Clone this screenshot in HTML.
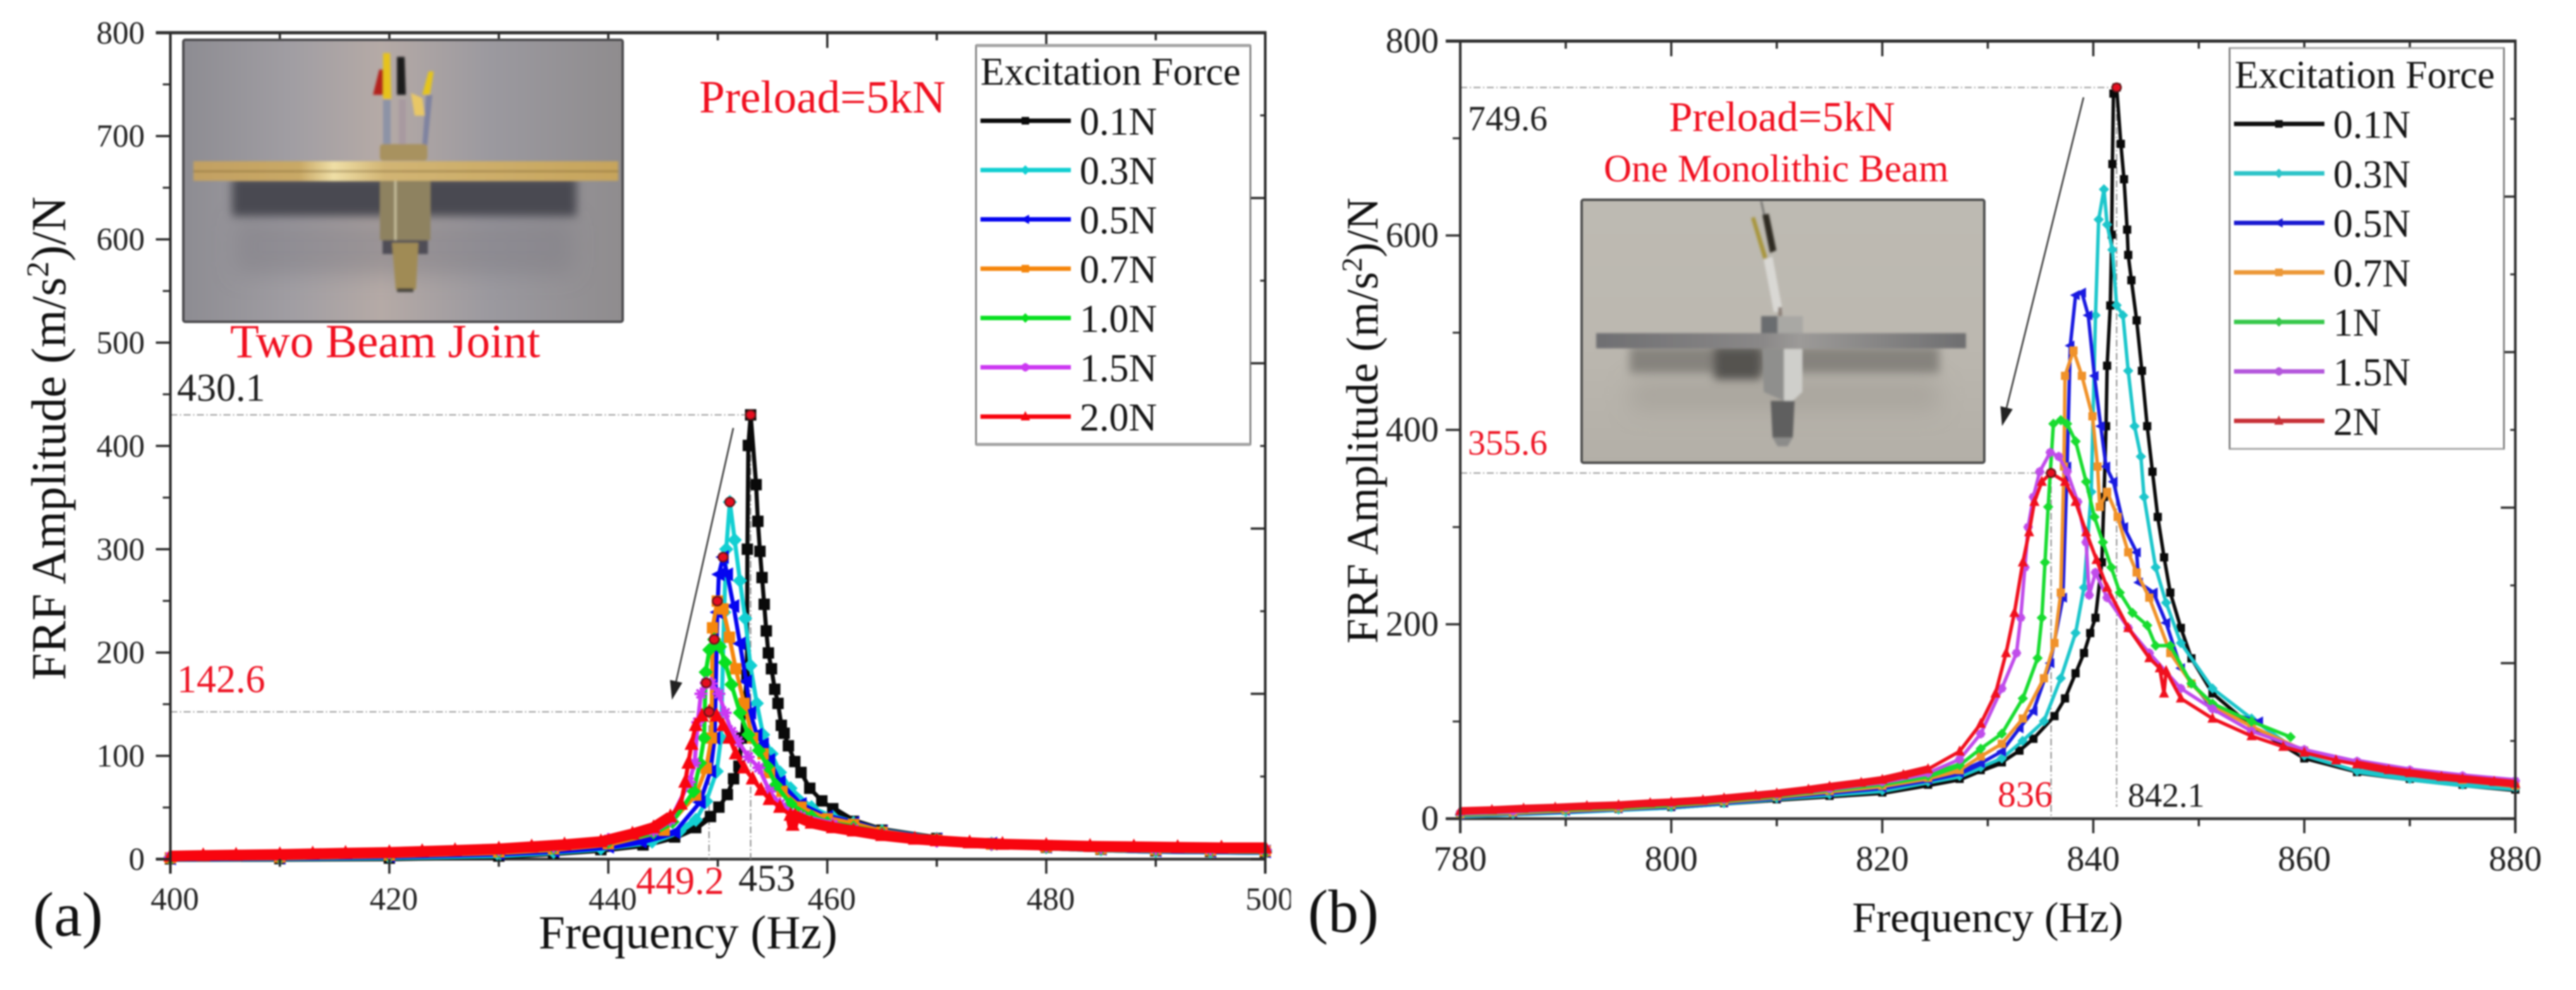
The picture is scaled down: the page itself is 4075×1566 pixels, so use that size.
<!DOCTYPE html>
<html lang="en">
<head>
<meta charset="utf-8">
<title>FRF amplitude vs frequency</title>
<style>
html,body{margin:0;padding:0;background:#fff;}
#figure{display:block;width:4075px;height:1566px;filter:blur(1.2px);font-family:"Liberation Serif",serif;}
text{font-family:"Liberation Serif",serif;}
</style>
</head>
<body>
<svg id="figure" xmlns="http://www.w3.org/2000/svg" width="4075" height="1566" viewBox="0 0 4075 1566">
<defs>
<filter id="soft" x="-5%" y="-5%" width="110%" height="110%"><feGaussianBlur stdDeviation="1.6"/></filter>
<filter id="shadowBlur" x="-20%" y="-60%" width="140%" height="240%"><feGaussianBlur stdDeviation="7"/></filter>
<filter id="fadeBlur" x="-20%" y="-60%" width="140%" height="240%"><feGaussianBlur stdDeviation="18"/></filter>
<linearGradient id="bgLeft" x1="0" x2="1" y1="0" y2="0">
<stop offset="0" stop-color="#8d8c92"/><stop offset="0.25" stop-color="#a19ea3"/><stop offset="0.45" stop-color="#b5aaa6"/><stop offset="0.7" stop-color="#9b999f"/><stop offset="1" stop-color="#8f8c8e"/>
</linearGradient>
<linearGradient id="goldBand" x1="0" x2="1" y1="0" y2="0">
<stop offset="0" stop-color="#c2a062"/><stop offset="0.25" stop-color="#c9a966"/><stop offset="0.33" stop-color="#efdfa6"/><stop offset="0.45" stop-color="#d2b574"/><stop offset="1" stop-color="#c6a45c"/>
</linearGradient>
<linearGradient id="bgRight" x1="0" x2="0" y1="0" y2="1">
<stop offset="0" stop-color="#bdbab2"/><stop offset="0.5" stop-color="#bcb8b0"/><stop offset="1" stop-color="#b3afa7"/>
</linearGradient>
<linearGradient id="steelBand" x1="0" x2="1" y1="0" y2="0">
<stop offset="0" stop-color="#6f6f72"/><stop offset="0.45" stop-color="#8a8888"/><stop offset="0.55" stop-color="#9c9a98"/><stop offset="1" stop-color="#6e6e70"/>
</linearGradient>
</defs>

<rect x="0" y="0" width="4075" height="1566" fill="#ffffff"/>

<g id="chartA"></g>
<g id="chartB"></g>

<!-- Photo, two-beam joint -->
<g>
  <rect x="290" y="63" width="695" height="446" rx="3" fill="url(#bgLeft)" stroke="#4e4d50" stroke-width="4"/>
  <g filter="url(#soft)">
    <rect x="372" y="345" width="535" height="90" fill="#7f7d84" opacity="0.5" filter="url(#fadeBlur)"/>
    <rect x="367" y="280" width="545" height="62" fill="#4a4951" filter="url(#shadowBlur)"/>
    <rect x="606" y="157" width="12" height="72" fill="#8d93a6"/>
    <rect x="631" y="157" width="11" height="72" fill="#a89aa0"/>
    <polygon points="684,150 676,230 668,230 674,150" fill="#7f83a0"/>
    <polygon points="606,84 617,84 619,157 606,157" fill="#e6c21a"/>
    <polygon points="600,110 606,110 606,150 590,150" fill="#b3231f"/>
    <polygon points="628,90 640,90 642,150 628,150" fill="#1c1a1c"/>
    <polygon points="678,113 686,113 680,150 668,150" fill="#e5c51f"/>
    <polygon points="650,147 668,155 672,183 656,183" fill="#e8c766"/>
    <rect x="601" y="228" width="75" height="26" rx="5" fill="#a8925f"/>
    <rect x="306" y="255" width="672" height="15" fill="url(#goldBand)"/>
    <rect x="306" y="270" width="672" height="2" fill="#8a6f3a"/>
    <rect x="306" y="272" width="672" height="14" fill="url(#goldBand)"/>
    <rect x="601" y="286" width="80" height="94" fill="#8e8261"/>
    <rect x="624" y="286" width="3" height="94" fill="#cfc6a4"/>
    <rect x="605" y="380" width="72" height="22" fill="#4f4e57"/>
    <polygon points="620,384 662,384 658,458 626,458" fill="#a08b55"/>
    <rect x="628" y="456" width="26" height="6" fill="#46443e"/>
  </g>
</g>

<!-- Photo, monolithic beam -->
<g>
  <rect x="2502" y="316" width="637" height="416" rx="3" fill="url(#bgRight)" stroke="#505050" stroke-width="4"/>
  <g filter="url(#soft)">
    <rect x="2578" y="600" width="490" height="50" fill="#a09c94" opacity="0.6" filter="url(#fadeBlur)"/>
    <rect x="2578" y="548" width="490" height="42" fill="#7d7a74" opacity="0.85" filter="url(#shadowBlur)"/>
    <rect x="2712" y="550" width="74" height="50" fill="#55534f" filter="url(#shadowBlur)"/>
    <line x1="2786" y1="318" x2="2792" y2="345" stroke="#4a4a4a" stroke-width="2"/>
    <polygon points="2788,340 2798,338 2810,396 2800,400" fill="#2d2a22"/>
    <polygon points="2770,345 2776,343 2796,408 2790,412" fill="#a8953a"/>
    <polygon points="2790,410 2804,406 2820,492 2806,494" fill="#d9d8d4"/>
    <rect x="2813" y="486" width="6" height="16" fill="#8c8078"/>
    <rect x="2786" y="500" width="66" height="27" fill="#a9a8a4"/>
    <rect x="2786" y="500" width="26" height="27" fill="#6a6d70"/>
    <rect x="2525" y="527" width="585" height="24" fill="url(#steelBand)"/>
    <polygon points="2788,552 2822,552 2822,634 2790,620" fill="#8f8f8d"/>
    <polygon points="2822,552 2851,552 2851,620 2836,634 2822,634" fill="#cfcfcb"/>
    <polygon points="2801,634 2839,634 2836,692 2804,692" fill="#5f5f5f"/>
    <polygon points="2804,692 2836,692 2828,706 2812,706" fill="#8c8c8a"/>
  </g>
</g>

<!-- Panel (a) annotations -->
<text x="1106" y="178" font-size="73" fill="#f01020">Preload=5kN</text>
<text x="364" y="565" font-size="75" fill="#f01020">Two Beam Joint</text>
<text x="280" y="634" font-size="62" fill="#1f1f1f">430.1</text>
<text x="280" y="1095" font-size="62" fill="#ee1525">142.6</text>
<text x="1006" y="1414" font-size="62" fill="#ee1525">449.2</text>
<text x="1168" y="1409" font-size="60" fill="#1f1f1f">453</text>
<text x="852" y="1500" font-size="75" fill="#111">Frequency (Hz)</text>
<text x="52" y="1480" font-size="100" fill="#111">(a)</text>
<text transform="translate(103,1076) rotate(-90)" font-size="77" fill="#111">FRF Amplitude (m/s<tspan dy="-27" font-size="50">2</tspan><tspan dy="27">)/N</tspan></text>

<!-- Panel (b) annotations -->
<text x="2640" y="207" font-size="67" fill="#f01020">Preload=5kN</text>
<text x="2537" y="287" font-size="61" fill="#f01020">One Monolithic Beam</text>
<text x="2322" y="206" font-size="56" fill="#1f1f1f">749.6</text>
<text x="2322" y="719" font-size="56" fill="#ee1525">355.6</text>
<text x="3160" y="1276" font-size="58" fill="#ee1525">836</text>
<text x="3366" y="1276" font-size="54" fill="#1f1f1f">842.1</text>
<text x="2930" y="1474" font-size="68" fill="#111">Frequency (Hz)</text>
<text x="2069" y="1474" font-size="96" fill="#111">(b)</text>
<text transform="translate(2179,1018) rotate(-90)" font-size="71" fill="#111">FRF Amplitude (m/s<tspan dy="-25" font-size="46">2</tspan><tspan dy="25">)/N</tspan></text>

<g id="overlay"></g>
</svg>

<script>
/* ===== Shared labels ===== */
const legendTitle = "Excitation Force";
const seriesLabelsA = ["0.1N", "0.3N", "0.5N", "0.7N", "1.0N", "1.5N", "2.0N"];
const seriesLabelsB = ["0.1N", "0.3N", "0.5N", "0.7N", "1N", "1.5N", "2N"];

/* ===== Panel (a) ticks ===== */
const xTicksA = [400, 420, 440, 460, 480, 500];
const xMinorTicksA = [410, 430, 450, 470, 490];
const yTicksA = [0, 100, 200, 300, 400, 500, 600, 700, 800];
const yMinorTicksA = [50, 150, 250, 350, 450, 550, 650, 750];
const rightTicksA = [0, 160, 320, 480, 640, 800];
const rightMinorTicksA = [80, 240, 400, 560, 720];

/* ===== Panel (b) ticks ===== */
const xTicksB = [780, 800, 820, 840, 860, 880];
const xMinorTicksB = [790, 810, 830, 850, 870];
const yTicksB = [0, 200, 400, 600, 800];
const yMinorTicksB = [100, 300, 500, 700];
const rightTicksB = [0, 160, 320, 480, 640, 800];
const rightMinorTicksB = [80, 240, 400, 560, 720];

/* ===== Panel (a) series: [frequency Hz, amplitude] ===== */
const seriesA01 = [[400,0.3],[410,0.5],[420,1],[430,3],[435,6],[439.32,9.2],[443.17,13.8],[446.06,21.4],[447.98,30.5],[449.33,41.2],[450.1,50.3],[450.87,62.5],[451.44,77.8],[451.93,90],[452.2,117.3],[452.66,178],[452.7,300],[452.79,400.5],[453,430.1],[453.5,362.5],[453.66,327],[453.85,298],[454.04,272.6],[454.24,246.7],[454.43,220.9],[454.62,199.6],[454.9,184.3],[455.2,164.5],[455.5,150.8],[455.8,129.5],[456.06,121.9],[456.45,109.7],[457.03,94.5],[457.6,83.9],[458.4,68.6],[459.5,56.4],[460.5,48.8],[462.4,36.6],[465,28],[470,20],[475,15],[480,11.5],[485,9.5],[490,8],[495,7.5],[500,7]];
const seriesA03 = [[400,0.5],[410,1],[420,2],[430,4],[435,7],[439.32,10.5],[444,17],[446.5,27],[448,38],[448.94,56],[449.9,85],[450.29,117.3],[450.58,239],[450.77,300],[451.1,345.7],[451.54,309],[452.02,269.6],[452.5,233],[452.98,187.4],[453.56,150.8],[454.14,120.4],[454.91,102],[455.68,83.9],[456.64,68.6],[458.56,50.3],[460.5,41],[462.4,35],[465,27],[470,19.5],[475,15],[480,11.5],[485,9.5],[490,8],[495,7.5],[500,7]];
const seriesA05 = [[400,0.8],[410,1.5],[420,3],[430,5.5],[435,8],[440,12],[443,17],[446.06,26],[448.37,55],[449.33,85],[449.71,117.3],[449.96,239],[450.1,275.7],[450.48,292.4],[450.87,275.7],[451.44,245],[452.02,208.7],[452.6,172],[452.98,141.7],[453.56,120.4],[454.14,111.3],[454.72,96],[455.68,74.7],[457.6,53.4],[460,41],[462.4,35],[465,26.5],[470,19],[475,15],[480,12],[485,10],[490,8.5],[495,8],[500,7.5]];
const seriesA07 = [[400,1.2],[410,2],[420,4],[430,7],[435,10],[440,15],[445.1,28],[447.98,62],[448.94,88],[449.42,117.3],[449.52,223.9],[449.96,249.8],[450.48,242.2],[451.06,214.8],[451.64,184.3],[452.4,150.8],[453.18,117.3],[454.14,102],[454.72,83.8],[455.87,65.6],[457.6,50.3],[460,39],[462.4,33.6],[465,26],[470,18.5],[475,14.5],[480,12],[485,10],[490,9],[495,8.5],[500,8]];
const seriesA10 = [[400,1.5],[410,2.5],[420,4.5],[430,8],[435,11],[440,17],[444.13,26],[445.86,36],[447.79,65.6],[448.37,93],[448.75,117.3],[448.9,181],[449.23,202.6],[449.67,212.7],[450.19,205.6],[450.67,190.4],[451.25,169],[452.02,141.7],[452.79,120.4],[453.75,105.2],[454.52,89.9],[455.3,71.7],[456.64,53.4],[458.56,41.2],[460,35],[462.4,30.6],[465,25],[470,18],[475,14.5],[480,12],[485,10.5],[490,9.5],[495,9],[500,8.5]];
const seriesA15 = [[400,2],[410,3],[420,5.5],[430,9],[435,12],[440,19],[444.13,27.5],[445.67,38],[447.4,74.7],[447.88,93],[448.17,132.6],[448.46,160],[448.94,170.6],[449.42,170],[450.1,160],[450.67,141.7],[451.25,123.4],[451.83,114.3],[452.79,99],[453.75,88.4],[454.72,65.6],[455.68,53.4],[457.6,41.2],[460.5,33.6],[462.4,29],[465,24],[470,17.5],[475,14.5],[480,12.5],[485,11],[490,10],[495,9.5],[500,9]];
const seriesA20 = [[400,3],[403,3.5],[406,4],[410,4.5],[413,5.2],[416,5.8],[420,6.5],[423,7.5],[426,8.5],[430,10],[433,12],[436,14],[439.32,17],[442.2,24.5],[444.13,30.6],[445.67,41.2],[446.63,53.4],[447.02,74.7],[447.31,93],[447.6,111.3],[447.98,129.5],[448.56,138.7],[449.2,142.6],[449.9,138.7],[450.48,129.5],[451.06,117.3],[451.64,102.1],[452.4,88.4],[453.18,77.8],[453.95,67.1],[454.72,57.9],[455.68,50.3],[456.64,42.7],[456.84,33],[457.04,42],[458.56,35],[460.5,30.6],[462.4,27.5],[465,23],[468,19.5],[470,18],[473,16],[476,14.5],[480,13.5],[484,12.5],[488,12],[492,11.5],[496,11],[500,11]];

/* ===== Panel (b) series: [frequency Hz, amplitude] ===== */
const seriesB01 = [[780,4],[785,6],[790,8],[795,10],[800,12],[805,16],[810,20],[815,23.5],[820,27],[824.34,35],[827.33,41],[829.33,50],[831.33,58],[833,70],[834.32,82.2],[836.32,105.5],[837.32,123.7],[838.32,149.6],[839.12,170.4],[839.71,191],[840.21,206.7],[840.81,263.7],[841.01,331],[841.21,403.8],[841.31,466],[841.61,528],[841.75,600.8],[841.81,673.5],[841.91,746],[842.21,752.3],[842.61,694.2],[842.91,657.9],[843.21,606],[843.31,580],[843.61,554],[844.11,512.7],[844.61,460.8],[845.11,403.8],[845.61,357],[846.11,310.4],[846.71,268.9],[847.3,232.6],[848.3,196.3],[849.3,165],[851.3,128.9],[855,95],[860,62],[865,48],[870,41],[875,35],[880,30]];
const seriesB03 = [[780,3],[785,5],[790,7],[795,9.5],[800,12],[805,16],[810,21],[815,25],[820,29],[824.34,38],[827.33,44],[829.33,53],[831.33,62],[833.3,80],[835.32,100.3],[836.92,144.5],[838.32,191.1],[839.12,237.8],[839.81,336.3],[840.21,517.9],[840.51,616.4],[841.01,647.5],[841.31,611.2],[841.81,585.3],[842.21,528.2],[842.81,517.9],[843.31,460.8],[843.91,403.8],[844.51,372.6],[844.81,331],[845.91,258.5],[846.9,222.2],[848.3,180.7],[851.3,134],[855,103],[860,65],[865,49],[870,41],[875,35],[880,31]];
const seriesB05 = [[780,4],[785,6],[790,8],[795,10.5],[800,13],[805,17],[810,22],[815,27],[820,32],[824.34,40],[827.33,47],[829.33,57],[831.33,69.2],[833,93],[834.32,110.7],[835.92,160],[837.12,227.4],[837.52,362.3],[837.82,486.7],[838.32,538.6],[838.92,541.2],[839.52,517.9],[840.11,455.6],[840.71,403.8],[841.21,362.3],[841.91,346.7],[842.91,300],[844.11,274],[844.31,243],[845.71,232.6],[846.9,201.5],[848.3,154.8],[851.3,113.3],[855.7,100]];
const seriesB07 = [[780,4.5],[785,6.5],[790,9],[795,11],[800,14],[805,18],[810,23],[815,28.5],[820,34],[824.34,42],[827.33,50],[829.33,64],[831.33,77],[833.32,103],[835.32,144.5],[836.32,180.7],[836.92,232.6],[837.22,362.3],[837.32,455.6],[838.12,481.6],[838.92,455.6],[839.92,414],[840.41,362.3],[840.61,320.8],[841.31,336.3],[842.31,310.4],[843.31,274.1],[844.11,253.3],[845.31,227.4],[847.3,170.4],[849.3,139],[851.3,115.9],[855,95],[860,70],[865,56],[870,47],[875,40],[880,34]];
const seriesB10 = [[780,5],[785,7.5],[790,10],[795,12],[800,14.5],[805,19],[810,24],[815,30],[820,36],[824.34,44],[827.33,55],[829.33,72],[831.33,87.4],[833.32,123.7],[834.72,165.2],[835.12,206.7],[835.42,263.7],[835.72,320.8],[836.22,406.3],[836.92,410],[837.52,406.3],[838.32,388.2],[839.32,346.7],[840.11,310.4],[840.91,284.4],[841.71,258.5],[842.51,232.6],[843.71,211.8],[845.11,198.9],[845.91,178],[847.3,178],[849.3,139],[851.3,118.5],[855,100],[858.7,84]];
const seriesB15 = [[780,6],[785,8],[790,11],[795,13],[800,16],[805,20],[810,25],[815,31],[820,38],[824.34,47],[827.33,61],[829.33,87.3],[831.33,134],[832.72,170.4],[833.12,206.7],[833.52,258.5],[833.82,300],[834.32,331],[834.92,357],[835.92,376.8],[836.72,372.6],[837.52,357],[838.52,326],[839.32,284.4],[839.61,230],[840.21,253.3],[841.31,227.4],[843.31,196.3],[845.31,170.4],[848.3,134],[851.3,113],[855,90],[860,71],[865,59],[870,50],[875,44],[880,39]];
const seriesB20 = [[780,8],[783,9],[786,10.5],[789,11.5],[792,13],[795,14],[798,16],[800,17],[803,19],[805,21],[808,24],[810,26],[813,30],[815,33],[818,37],[820,40],[822,45],[824.34,51],[827.33,69.2],[829.33,97.7],[830.73,128.8],[831.73,170.4],[832.52,211.8],[833.32,263.7],[833.92,294.8],[834.42,326],[835.12,346.7],[836,355.6],[837.32,346.7],[838.32,326],[839.32,294.8],[840.31,266.3],[841.31,237.8],[843.31,196.3],[845.31,165.2],[846.3,154.8],[846.7,128.9],[846.9,152],[848.3,123.7],[851.3,103],[855,85],[858,74],[860,68],[863,60],[865,56],[868,50],[870,47],[873,43],[875,41],[878,38],[880,36]];

/* ===== Series groupings and styles ===== */
const seriesDataA = [seriesA01, seriesA03, seriesA05, seriesA07, seriesA10, seriesA15, seriesA20];
const seriesDataB = [seriesB01, seriesB03, seriesB05, seriesB07, seriesB10, seriesB15, seriesB20];
const colorsA = ["#0a0a0a", "#12cfd2", "#0505f0", "#f5860c", "#08e020", "#cc38f2", "#f8050f"];
const colorsB = ["#0a0a0a", "#1cc6cb", "#1a1ae0", "#f0922a", "#18dc30", "#c04cea", "#f0101e"];
const legendColorsB = ["#111111", "#2ec4c8", "#1a1ad0", "#ec9838", "#38c84c", "#b458dc", "#c83238"];
const markerKinds = ["square", "diamond", "left", "square", "diamond", "star", "triangle"];

/* ===== Axis functions ===== */
function xA(f) { return 269.5 + (f - 400) * 17.32; }
function yA(v) { return 1359 - v * 1.634; }
function xB(f) { return 2310 + (f - 780) * 16.69; }
function yB(v) { return 1295 - v * 1.5375; }

const NS = "http://www.w3.org/2000/svg";
const chartA = document.getElementById("chartA");
const chartB = document.getElementById("chartB");
const overlay = document.getElementById("overlay");

function addLine(parent, x1, y1, x2, y2, color, width, name, dash) {
  const el = document.createElementNS(NS, "line");
  el.setAttribute("x1", x1);
  el.setAttribute("y1", y1);
  el.setAttribute("x2", x2);
  el.setAttribute("y2", y2);
  el.setAttribute("stroke", color);
  el.setAttribute("stroke-width", width);
  if (dash) el.setAttribute("stroke-dasharray", dash);
  
  
  parent.appendChild(el);
  return el;
}

function addText(parent, x, y, str, size, anchor, color, name) {
  const el = document.createElementNS(NS, "text");
  el.setAttribute("x", x);
  el.setAttribute("y", y);
  el.setAttribute("font-size", size);
  el.setAttribute("text-anchor", anchor);
  el.setAttribute("fill", color);
  el.textContent = str;
  
  
  parent.appendChild(el);
  return el;
}

function markerPath(kind, x, y, s) {
  if (kind === "square") return `M${x-s} ${y-s}H${x+s}V${y+s}H${x-s}Z`;
  if (kind === "diamond") return `M${x} ${y-s*1.25}L${x+s*1.25} ${y}L${x} ${y+s*1.25}L${x-s*1.25} ${y}Z`;
  if (kind === "left") return `M${x-s*1.3} ${y}L${x+s} ${y-s*1.2}L${x+s} ${y+s*1.2}Z`;
  if (kind === "triangle") return `M${x} ${y-s*1.4}L${x+s*1.2} ${y+s}L${x-s*1.2} ${y+s}Z`;
  return `M${x-s*1.2} ${y}H${x+s*1.2}M${x} ${y-s*1.2}V${y+s*1.2}M${x-s*.8} ${y-s*.8}L${x+s*.8} ${y+s*.8}M${x+s*.8} ${y-s*.8}L${x-s*.8} ${y+s*.8}`;
}

function addMarker(parent, kind, x, y, s, color, name) {
  const el = document.createElementNS(NS, "path");
  el.setAttribute("d", markerPath(kind, x, y, s));
  el.setAttribute("fill", color);
  el.setAttribute("stroke", color);
  el.setAttribute("stroke-width", kind === "star" ? 4 : 1);
  
  
  parent.appendChild(el);
}

function addPath(parent, points, color, width, name) {
  const el = document.createElementNS(NS, "polyline");
  el.setAttribute("points", points.map(p => p[0].toFixed(1) + "," + p[1].toFixed(1)).join(" "));
  el.setAttribute("fill", "none");
  el.setAttribute("stroke", color);
  el.setAttribute("stroke-width", width);
  el.setAttribute("stroke-linejoin", "round");
  
  
  parent.appendChild(el);
}

function addPeak(parent, x, y, r, name) {
  const el = document.createElementNS(NS, "ellipse");
  el.setAttribute("cx", x);
  el.setAttribute("cy", y);
  el.setAttribute("rx", r);
  el.setAttribute("ry", r * 0.95);
  el.setAttribute("fill", "#e60e20");
  el.setAttribute("stroke", "#6a1518");
  el.setAttribute("stroke-width", 2.5);
  
  
  parent.appendChild(el);
}

function peakOf(series) {
  let best = series[0];
  series.forEach(p => { if (p[1] > best[1]) best = p; });
  return best;
}

function drawSeries(parent, data, colors, x, y, opt, tag) {
  data.forEach((series, i) => {
    const px = series.map(p => [x(p[0]), y(p[1])]);
    const lastOne = i === data.length - 1;
    addPath(parent, px, colors[i], opt.line, tag + "-series-line-" + i);
    let run = [];
    const flush = () => {
      if (run.length > 1) addPath(parent, run, colors[i], lastOne ? opt.tailTop : opt.tail, tag + "-series-tail-" + i);
      run = [];
    };
    series.forEach((p, j) => {
      if (p[1] < opt.tailLimit) run.push(px[j]); else flush();
    });
    flush();
    series.forEach((p, j) => {
      addMarker(parent, markerKinds[i], px[j][0], px[j][1], opt.marker, colors[i], tag + "-point-" + i);
    });
  });
}

function drawAxes(parent, c) {
  c.xTicks.forEach(t => {
    addLine(parent, c.x(t), c.bottom, c.x(t), c.bottom + 23, c.axis, 3.5, c.tag + "-x-tick");
    addLine(parent, c.x(t), c.top, c.x(t), c.top + 24, c.axis, 3.5, c.tag + "-top-tick");
    addText(parent, c.x(t) + c.xLabelShift, c.xLabelY, String(t), c.xFont, "middle", "#222", c.tag + "-x-tick-label");
  });
  c.xMinor.forEach(t => {
    addLine(parent, c.x(t), c.bottom, c.x(t), c.bottom + 12, c.axis, 3.5, c.tag + "-x-minor-tick");
    addLine(parent, c.x(t), c.top, c.x(t), c.top + 12, c.axis, 3.5, c.tag + "-top-minor-tick");
  });
  c.yTicks.forEach(t => {
    addLine(parent, c.left - 23, c.y(t), c.left, c.y(t), c.axis, 3.5, c.tag + "-y-tick");
    addText(parent, c.yLabelX, c.y(t) + c.yLabelShift, String(t), c.yFont, "end", "#222", c.tag + "-y-tick-label");
  });
  c.yMinor.forEach(t => {
    addLine(parent, c.left - 12, c.y(t), c.left, c.y(t), c.axis, 3, c.tag + "-y-minor-tick");
  });
  c.rightTicks.forEach(t => {
    addLine(parent, c.right - 23, c.y(t), c.right, c.y(t), c.axis, 3.5, c.tag + "-right-tick");
  });
  c.rightMinor.forEach(t => {
    addLine(parent, c.right - 8, c.y(t), c.right, c.y(t), c.axis, 3, c.tag + "-right-minor-tick");
  });
  addLine(parent, c.left, c.top - 2, c.left, c.bottom + 23, c.axis, 4, c.tag + "-left-spine");
  addLine(parent, c.right, c.top - 2, c.right, c.bottom + 23, c.axis, 4, c.tag + "-right-spine");
  addLine(parent, c.left - 23, c.top, c.right + 2, c.top, "#2e2e2e", 5, c.tag + "-top-spine");
}

function drawBaseline(parent, c) {
  addLine(parent, c.left - 23, c.bottom, c.right + 2, c.bottom, "#333", 4.5, c.tag + "-bottom-spine");
}

function drawLegend(parent, c) {
  const box = document.createElementNS(NS, "rect");
  box.setAttribute("x", c.lx);
  box.setAttribute("y", c.ly);
  box.setAttribute("width", c.lw);
  box.setAttribute("height", c.lh);
  box.setAttribute("fill", "#ffffff");
  box.setAttribute("stroke", "#6e6e6e");
  box.setAttribute("stroke-width", 2.5);
  
  
  parent.appendChild(box);
  addLine(parent, c.lx, c.ly, c.lx + c.lw, c.ly, "#a5a5a5", c.lEdge, c.tag + "-legend-top-edge");
  addLine(parent, c.lx, c.ly + c.lh, c.lx + c.lw, c.ly + c.lh, "#a5a5a5", c.lEdge, c.tag + "-legend-bottom-edge");
  addText(parent, c.lTitleX, c.lTitleY, legendTitle, 62, "start", "#161616", c.tag + "-legend-title");
  c.labels.forEach((lab, i) => {
    const cy = c.lFirst + i * c.lStep;
    addLine(parent, c.lLine, cy, c.lLine + 143, cy, c.legendColors[i], 7, c.tag + "-legend-swatch-" + lab);
    addMarker(parent, markerKinds[i], c.lLine + 71, cy, 5.5, c.legendColors[i], c.tag + "-legend-marker-" + lab);
    addText(parent, c.lLine + 157, cy + 22, lab, 62, "start", "#161616", c.tag + "-legend-entry-" + lab);
  });
}

function drawArrow(parent, x1, y1, x2, y2, name) {
  addLine(parent, x1, y1, x2 - (x2 - x1) * 0.05, y2 - (y2 - y1) * 0.05, "#333", 2.5, name);
  const a = Math.atan2(y2 - y1, x2 - x1), L = 30, W = 10;
  const bx = x2 - L * Math.cos(a), by = y2 - L * Math.sin(a);
  const el = document.createElementNS(NS, "polygon");
  el.setAttribute("points", `${x2},${y2} ${bx - W * Math.sin(a)},${by + W * Math.cos(a)} ${bx + W * Math.sin(a)},${by - W * Math.cos(a)}`);
  el.setAttribute("fill", "#222");
  
  
  parent.appendChild(el);
}

/* ===== Panel (a) ===== */
const cfgA = {
  tag: "a", x: xA, y: yA, left: 269.5, right: 2001.5, top: yA(800), bottom: yA(0), axis: "#262626",
  xTicks: xTicksA, xMinor: xMinorTicksA, yTicks: yTicksA, yMinor: yMinorTicksA,
  rightTicks: rightTicksA, rightMinor: rightMinorTicksA,
  xLabelShift: 7, xLabelY: 1439, xFont: 51, yLabelX: 229, yLabelShift: 17, yFont: 51,
  lx: 1544, ly: 72, lw: 434, lh: 631, lEdge: 5, lTitleX: 1551, lTitleY: 134, lFirst: 191, lStep: 78, lLine: 1551,
  labels: seriesLabelsA, legendColors: colorsA
};
drawBaseline(chartA, cfgA);
const peakA0 = peakOf(seriesA01);
const peakA6 = peakOf(seriesA20);
addLine(chartA, cfgA.left, yA(peakA0[1]), xA(peakA0[0]), yA(peakA0[1]), "#9a9a9a", 2, "a-guide-peak-max", "11 4 2 4");
addLine(chartA, cfgA.left, yA(peakA6[1]), xA(peakA6[0]), yA(peakA6[1]), "#9a9a9a", 2, "a-guide-peak-min", "11 4 2 4");
addLine(chartA, xA(peakA0[0]), yA(peakA0[1]), xA(peakA0[0]), yA(0), "#8a8a8a", 2, "a-guide-freq-max", "11 4 2 4");
addLine(chartA, xA(peakA6[0]), yA(peakA6[1]), xA(peakA6[0]), yA(0), "#8a8a8a", 2, "a-guide-freq-min", "11 4 2 4");
drawSeries(chartA, seriesDataA, colorsA, xA, yA, { line: 6.5, tail: 10, tailTop: 17, tailLimit: 50, marker: 8.5 }, "a");
seriesDataA.forEach((s, i) => {
  const p = peakOf(s);
  addPeak(chartA, xA(p[0]), yA(p[1]), 7.5, "a-peak-marker-" + i);
});
drawAxes(chartA, cfgA);
drawLegend(chartA, cfgA);
drawArrow(chartA, 1160, 677, 1063, 1107, "a-trend-arrow");
const clipA = document.createElementNS(NS, "rect");
clipA.setAttribute("x", 2042);
clipA.setAttribute("y", 1385);
clipA.setAttribute("width", 26);
clipA.setAttribute("height", 70);
clipA.setAttribute("fill", "#ffffff");


chartA.appendChild(clipA);

/* ===== Panel (b) ===== */
const cfgB = {
  tag: "b", x: xB, y: yB, left: 2310, right: 3979, top: yB(800), bottom: yB(0), axis: "#2c2c2c",
  xTicks: xTicksB, xMinor: xMinorTicksB, yTicks: yTicksB, yMinor: yMinorTicksB,
  rightTicks: rightTicksB, rightMinor: rightMinorTicksB,
  xLabelShift: 0, xLabelY: 1377, xFont: 56, yLabelX: 2276, yLabelShift: 18, yFont: 56,
  lx: 3527, ly: 76, lw: 434, lh: 634, lEdge: 2.5, lTitleX: 3535, lTitleY: 139, lFirst: 196, lStep: 78.3, lLine: 3534,
  labels: seriesLabelsB, legendColors: legendColorsB
};
drawBaseline(chartB, cfgB);
const peakB0 = peakOf(seriesB01);
const peakB6 = peakOf(seriesB20);
addLine(chartB, cfgB.left, yB(peakB0[1]), xB(peakB0[0]), yB(peakB0[1]), "#9a9a9a", 2, "b-guide-peak-max", "11 4 2 4");
addLine(chartB, cfgB.left, yB(peakB6[1]), xB(peakB6[0]), yB(peakB6[1]), "#9a9a9a", 2, "b-guide-peak-min", "11 4 2 4");
addLine(chartB, xB(peakB0[0]), yB(peakB0[1]), xB(peakB0[0]), 1276, "#8a8a8a", 2, "b-guide-freq-max", "11 4 2 4");
addLine(chartB, xB(peakB6[0]), yB(peakB6[1]), xB(peakB6[0]), yB(0), "#8a8a8a", 2, "b-guide-freq-min", "11 4 2 4");
drawSeries(chartB, seriesDataB, colorsB, xB, yB, { line: 5.5, tail: 8.5, tailTop: 12, tailLimit: 60, marker: 6 }, "b");
addPeak(chartB, xB(peakB0[0]), yB(peakB0[1]), 7, "b-peak-marker-max");
addPeak(chartB, xB(peakB6[0]), yB(peakB6[1]), 7, "b-peak-marker-min");
drawAxes(chartB, cfgB);
drawLegend(chartB, cfgB);
drawArrow(chartB, 3296, 154, 3167, 674, "b-trend-arrow");
</script>
</body>
</html>
